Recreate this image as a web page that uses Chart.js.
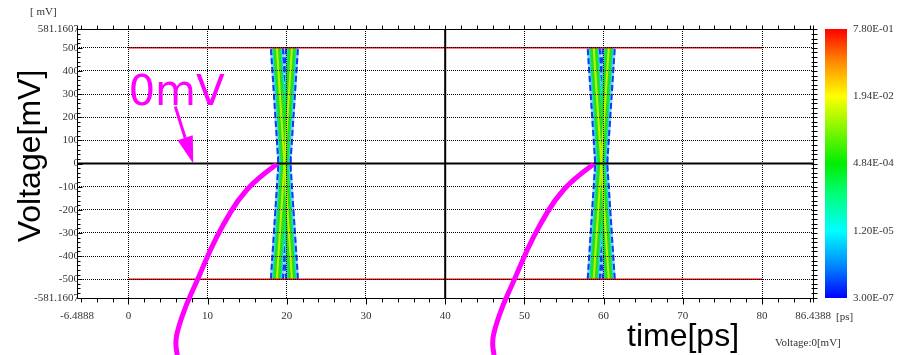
<!DOCTYPE html>
<html>
<head>
<meta charset="utf-8">
<script src="https://cdn.jsdelivr.net/npm/chart.js@4.4.1/dist/chart.umd.min.js"></script>
<style>
  html, body { margin: 0; padding: 0; background: #fff; }
</style>
</head>
<body>
<canvas id="myChart" width="900" height="355"></canvas>
<script>
// axis range and tick labels
const xMin = -6.4888, xMax = 86.4388;
const yMin = -581.1607, yMax = 581.1607;
const xTicks = [-6.4888, 0, 10, 20, 30, 40, 50, 60, 70, 80, 86.4388];
const yTicks = [-581.1607, -500, -400, -300, -200, -100, 0, 100, 200, 300, 400, 500, 581.1607];

// logic levels
const railX = [0, 80];
const railHigh = [500, 500];
const railLow = [-500, -500];

// eye crossings (rising / falling edges)
const edgeY = [-500, 500];
const rise1X = [18.75, 20.65];
const fall1X = [20.65, 18.75];
const rise2X = [58.75, 60.65];
const fall2X = [60.65, 58.75];

// reference lines
const zeroX = [xMin, xMax], zeroY = [0, 0];
const midX = [40, 40], midY = [yMin, yMax];

// colour bar
const colorbarLabels = ["7.80E-01", "1.94E-02", "4.84E-04", "1.20E-05", "3.00E-07"];

// magenta annotations (in data units)
const curve1X = [18.51, 16.12, 13.85, 11.96, 10.33, 8.69, 7.30, 6.30, 5.92, 6.17];
const curve2X = [58.51, 56.12, 53.85, 51.96, 50.33, 48.69, 47.30, 46.30, 45.92, 46.17];
const curveY = [-9, -69, -156, -264, -372, -506, -609, -709, -769, -830];
const arrowX = [5.92, 8.19];
const arrowY = [246, 0];

function pts(xs, ys) {
  return xs.map((v, i) => ({ x: v, y: ys[i] }));
}
function line(xs, ys, color, width, dash) {
  return {
    data: pts(xs, ys),
    showLine: true,
    borderColor: color,
    borderWidth: width,
    borderDash: dash || [],
    pointRadius: 0,
    fill: false,
    tension: 0
  };
}

const edges = [[rise1X, edgeY], [fall1X, edgeY], [rise2X, edgeY], [fall2X, edgeY]];
// top layer first
const layers = [
  ["#c4f000", 2],
  ["#22e022", 7],
  ["#00e8a0", 9],
  ["#60c8ff", 10],
  ["#1038ff", 14, [6, 3]],
  ["#90d8ff", 14]
];

const datasets = [];
datasets.push(line(zeroX, zeroY, "#000", 2));
datasets.push(line(midX, midY, "#000", 2));
datasets.push(line(railX, railHigh, "#ff0000", 1.5));
datasets.push(line(railX, railLow, "#ff0000", 1.5));
layers.forEach(l => {
  edges.forEach(e => datasets.push(line(e[0], e[1], l[0], l[1], l[2])));
});

const hidden = (ends) => (ctx) => {
  const v = ctx.tick ? ctx.tick.value : null;
  return ends.includes(v) ? "rgba(0,0,0,0)" : "#000";
};

const tickFont = { family: '"Liberation Serif", serif', size: 11 };

const extras = {
  id: "extras",
  afterDraw(chart) {
    const { ctx, chartArea: a, scales: { x, y } } = chart;
    ctx.save();

    // frame
    ctx.strokeStyle = "#000";
    ctx.lineWidth = 1;
    const L = Math.round(a.left) + 0.5, R = Math.round(a.right) + 0.5;
    const T = Math.round(a.top) + 0.5, B = Math.round(a.bottom) + 0.5;
    ctx.beginPath();
    ctx.moveTo(L, T - 4); ctx.lineTo(L, B);
    ctx.moveTo(L, B); ctx.lineTo(R, B);
    ctx.moveTo(L, T); ctx.lineTo(R, T);
    ctx.moveTo(R, T - 4); ctx.lineTo(R, B + 4);
    ctx.stroke();

    // minor ticks
    ctx.beginPath();
    for (let v = -6; v <= 86; v += 2) {
      const px = Math.round(x.getPixelForValue(v)) + 0.5;
      const major = v % 10 === 0;
      ctx.moveTo(px, B); ctx.lineTo(px, B + (major ? 6 : 4));
      ctx.moveTo(px, T); ctx.lineTo(px, T - 4);
    }
    for (let v = -580; v <= 580; v += 20) {
      const py = Math.round(y.getPixelForValue(v)) + 0.5;
      const major = v % 100 === 0;
      ctx.moveTo(L, py); ctx.lineTo(L + (major ? 5 : 3), py);
      ctx.moveTo(R - 2, py); ctx.lineTo(R + 4, py);
    }
    ctx.stroke();

    // colour bar
    const cbL = 825, cbW = 22;
    const g = ctx.createLinearGradient(0, a.top, 0, a.bottom);
    g.addColorStop(0, "#ff0000");
    g.addColorStop(0.12, "#ff8800");
    g.addColorStop(0.25, "#ffff00");
    g.addColorStop(0.5, "#00ee00");
    g.addColorStop(0.62, "#00ff80");
    g.addColorStop(0.75, "#00ffff");
    g.addColorStop(0.88, "#0088ff");
    g.addColorStop(1, "#0000ff");
    ctx.fillStyle = g;
    ctx.fillRect(cbL, a.top, cbW, a.bottom - a.top);

    ctx.fillStyle = "#333";
    ctx.font = '11px "Liberation Serif", serif';
    ctx.textAlign = "left";
    ctx.textBaseline = "middle";
    colorbarLabels.forEach((t, i) => {
      const py = a.top + (a.bottom - a.top) * i / (colorbarLabels.length - 1);
      ctx.fillText(t, cbL + cbW + 6, py);
    });

    ctx.fillText("[ mV]", 30, 12);
    ctx.fillText("[ps]", 836, 317);
    ctx.fillText("Voltage:0[mV]", 775, 343);

    // axis titles
    ctx.fillStyle = "#000";
    ctx.font = '32px "Liberation Sans", Arial, sans-serif';
    ctx.textAlign = "center";
    ctx.textBaseline = "alphabetic";
    ctx.fillText("time[ps]", 683, 346);
    ctx.save();
    ctx.translate(40, 156);
    ctx.rotate(-Math.PI / 2);
    ctx.fillText("Voltage[mV]", 0, 0);
    ctx.restore();

    // magenta annotations
    ctx.strokeStyle = "#ff00ff";
    ctx.fillStyle = "#ff00ff";
    ctx.lineCap = "round";
    ctx.lineWidth = 5;
    [curve1X, curve2X].forEach(cx => {
      const p = cx.map((v, i) => [x.getPixelForValue(v), y.getPixelForValue(curveY[i])]);
      ctx.beginPath();
      ctx.moveTo(p[0][0], p[0][1]);
      for (let i = 1; i < p.length - 1; i++) {
        const mx = (p[i][0] + p[i + 1][0]) / 2, my = (p[i][1] + p[i + 1][1]) / 2;
        ctx.quadraticCurveTo(p[i][0], p[i][1], mx, my);
      }
      ctx.lineTo(p[p.length - 1][0], p[p.length - 1][1]);
      ctx.stroke();
    });

    const sx = x.getPixelForValue(arrowX[0]), sy = y.getPixelForValue(arrowY[0]);
    const tx = x.getPixelForValue(arrowX[1]), ty = y.getPixelForValue(arrowY[1]);
    const len = Math.hypot(tx - sx, ty - sy);
    const ux = (tx - sx) / len, uy = (ty - sy) / len;
    const hl = 27, hw = 8;
    ctx.lineWidth = 3;
    ctx.lineCap = "butt";
    ctx.beginPath();
    ctx.moveTo(sx, sy);
    ctx.lineTo(tx - ux * hl, ty - uy * hl);
    ctx.stroke();
    ctx.beginPath();
    ctx.moveTo(tx, ty);
    ctx.lineTo(tx - ux * hl - uy * hw, ty - uy * hl + ux * hw);
    ctx.lineTo(tx - ux * hl + uy * hw, ty - uy * hl - ux * hw);
    ctx.closePath();
    ctx.fill();

    ctx.font = '42px "DejaVu Sans", sans-serif';
    ctx.textAlign = "left";
    ctx.textBaseline = "alphabetic";
    ctx.fillText("0mV", x.getPixelForValue(0), y.getPixelForValue(254));

    ctx.restore();
  }
};

const config = {
  type: "scatter",
  data: { datasets: datasets },
  options: {
    responsive: false,
    animation: false,
    devicePixelRatio: 1,
    layout: { padding: { top: 29, right: 87, bottom: 0, left: 0 } },
    plugins: { legend: { display: false }, tooltip: { enabled: false } },
    scales: {
      x: {
        type: "linear",
        min: xMin,
        max: xMax,
        afterBuildTicks: s => { s.ticks = xTicks.map(v => ({ value: v })); },
        afterFit: s => { s.height = 57; },
        ticks: {
          autoSkip: false, maxRotation: 0, padding: 12,
          color: "#333", font: tickFont,
          callback: v => String(v)
        },
        grid: { z: 1, drawTicks: false, lineWidth: 1, color: hidden([xMin, xMax, 40]) },
        border: { display: false, dash: [1, 1] }
      },
      y: {
        type: "linear",
        min: yMin,
        max: yMax,
        afterBuildTicks: s => { s.ticks = yTicks.map(v => ({ value: v })); },
        afterFit: s => { s.width = 77; },
        ticks: {
          autoSkip: false, padding: -2,
          color: "#333", font: tickFont,
          callback: v => String(v)
        },
        grid: { z: 1, drawTicks: false, lineWidth: 1, color: hidden([yMin, yMax, 0]) },
        border: { display: false, dash: [1, 1] }
      }
    }
  },
  plugins: [extras]
};

const myChart = new Chart(document.getElementById("myChart"), config);
</script>
</body>
</html>
